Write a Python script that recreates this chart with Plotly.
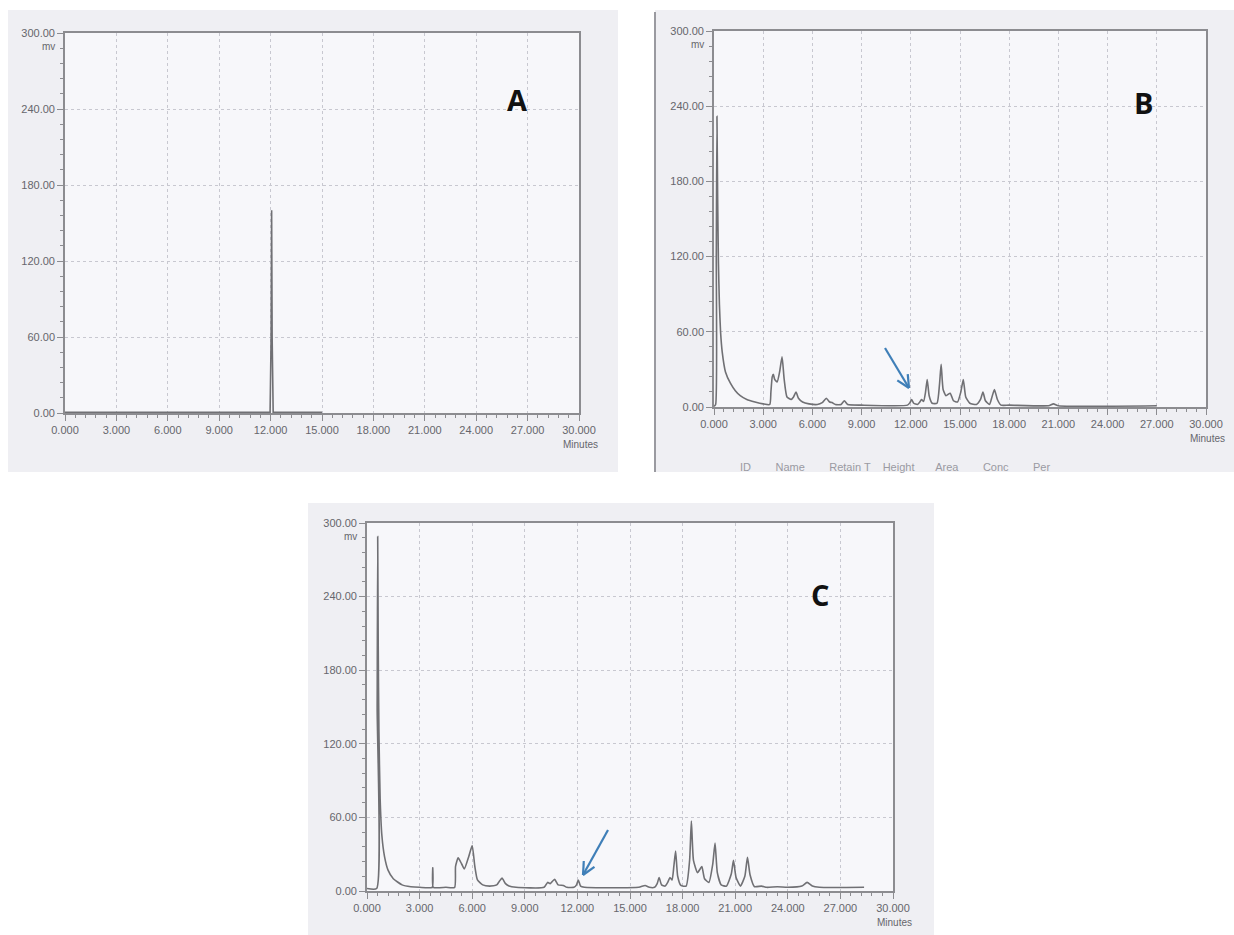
import math
import plotly.graph_objects as go

W, H = 1234, 935

# ---------------- data ----------------
panel_labels = ["A", "B", "C"]

A_time = [0.0, 11.97, 12.03, 12.06, 12.09, 12.15, 15.0]
A_mv = [0.6, 0.6, 60.0, 160.0, 60.0, 0.6, 0.6]

B_time = [0.0, 0.10, 0.14, 0.18, 0.22, 0.27, 0.33, 0.40, 0.50, 0.70, 1.00, 1.30, 1.60, 2.00,
          2.50, 3.00, 3.40, 3.47, 3.55, 3.62, 3.70, 3.85, 4.00, 4.15, 4.28, 4.45, 4.70, 4.85,
          5.00, 5.15, 5.40, 5.80, 6.30, 6.60, 6.85, 7.05, 7.20, 7.40, 7.75, 7.95, 8.15, 9.00,
          11.80, 11.95, 12.05, 12.18, 12.40, 12.55, 12.65, 12.78, 12.90, 13.00, 13.12, 13.30,
          13.60, 13.75, 13.85, 13.97, 14.15, 14.40, 14.60, 14.85, 15.05, 15.20, 15.35, 15.60,
          16.00, 16.25, 16.40, 16.55, 16.80, 16.95, 17.10, 17.28, 17.50, 18.00, 20.40, 20.70,
          21.00, 27.00]
B_mv = [0.5, 2.0, 120.0, 232.0, 170.0, 115.0, 82.0, 60.0, 44.0, 28.0, 19.0, 13.0, 9.0, 6.0,
        4.0, 2.5, 2.0, 12.0, 24.0, 26.0, 22.0, 20.0, 28.0, 40.0, 22.0, 8.0, 6.0, 8.0,
        12.0, 7.0, 4.0, 2.5, 2.0, 3.5, 7.0, 4.0, 3.5, 2.0, 2.0, 5.0, 2.0, 1.5,
        1.5, 3.5, 6.0, 3.0, 2.0, 4.0, 6.0, 4.5, 12.0, 22.0, 9.0, 3.0,
        3.0, 18.0, 34.0, 14.0, 9.0, 11.0, 5.0, 4.0, 12.0, 22.0, 8.0, 3.0,
        2.0, 6.0, 12.0, 5.0, 2.0, 8.0, 14.0, 6.0, 1.5, 1.5, 1.0, 2.5,
        1.0, 1.0]

C_time = [0.0, 0.55, 0.58, 0.61, 0.64, 0.68, 0.75, 0.85, 1.00, 1.20, 1.50, 2.00, 2.50, 3.00,
          3.72, 3.75, 3.78, 4.50, 5.00, 5.05, 5.20, 5.40, 5.55, 5.80, 6.00, 6.15, 6.30, 6.60,
          7.00, 7.40, 7.55, 7.70, 7.90, 8.10, 8.50, 10.10, 10.30, 10.45, 10.70, 10.90, 11.20,
          11.40, 11.80, 11.95, 12.05, 12.18, 12.40, 15.50, 15.86, 16.10, 16.40, 16.55, 16.66,
          16.80, 17.00, 17.15, 17.28, 17.40, 17.50, 17.60, 17.72, 17.90, 18.20, 18.40, 18.50,
          18.62, 18.85, 19.00, 19.10, 19.25, 19.50, 19.72, 19.85, 19.98, 20.20, 20.50, 20.78,
          20.90, 21.05, 21.30, 21.55, 21.70, 21.85, 22.10, 22.50, 22.80, 23.40, 24.00, 24.80,
          25.10, 25.40, 25.80, 28.35]
C_mv = [2.0, 2.0, 150.0, 289.0, 200.0, 130.0, 75.0, 45.0, 28.0, 17.0, 10.0, 5.0, 3.5, 3.0,
        3.0, 19.0, 3.0, 3.0, 3.0, 20.0, 27.0, 22.0, 18.0, 28.0, 37.0, 20.0, 9.0, 5.0,
        4.0, 5.0, 8.0, 10.5, 6.0, 4.0, 3.0, 3.0, 7.0, 6.0, 9.5, 5.0, 4.5,
        3.0, 3.0, 5.0, 9.0, 4.0, 3.0, 3.0, 4.5, 3.0, 3.0, 6.0, 11.0,
        5.0, 4.0, 7.0, 11.0, 9.0, 20.0, 32.6, 12.0, 4.5, 4.0, 25.0, 57.0,
        25.0, 15.0, 18.0, 20.0, 10.0, 7.0, 22.0, 39.0, 15.0, 5.0, 4.0, 14.0,
        25.0, 11.0, 4.0, 12.0, 27.5, 13.0, 3.5, 4.0, 3.0, 3.5, 3.0, 4.0,
        7.0, 4.0, 3.0, 3.0]

x_tickvals = [0, 3, 6, 9, 12, 15, 18, 21, 24, 27, 30]
x_ticktext = ["0.000", "3.000", "6.000", "9.000", "12.000", "15.000", "18.000",
              "21.000", "24.000", "27.000", "30.000"]
y_tickvals = [0, 60, 120, 180, 240, 300]
y_ticktext = ["0.00", "60.00", "120.00", "180.00", "240.00", "300.00"]
y_unit = "mv"
x_unit = "Minutes"
table_header_B = "ID        Name        Retain T    Height       Area        Conc        Per"

# ---------------- layout geometry (pixels) ----------------
plot_px = [(65, 579, 33, 413), (714, 1206, 31, 407), (367, 893, 523, 891)]
paper_px = [(8, 618, 10, 472), (655, 1234, 10, 472), (308, 934, 503, 935)]
letter_px = [(517, 100), (1143, 102), (820, 594)]
arrows_px = [((885, 348), (909, 388)), ((608, 830), (583, 875))]
line_shapes = ["linear", "spline", "spline"]


def fx(px):
    return px / W


def fy(py):
    return 1 - py / H


TRACE_COLOR = "#707074"
AXIS_COLOR = "#8c8c90"
TEXT_COLOR = "#66666c"
GRID_COLOR = "#c8c8d0"
FONT = "Liberation Sans"

fig = go.Figure()
series = [(A_time, A_mv), (B_time, B_mv), (C_time, C_mv)]
for i, (t, v) in enumerate(series):
    suffix = "" if i == 0 else str(i + 1)
    line = dict(color=TRACE_COLOR, width=1.6, shape=line_shapes[i])
    if line_shapes[i] == "spline":
        line["smoothing"] = 0.5
    fig.add_trace(go.Scatter(x=t, y=v, mode="lines", line=line,
                             xaxis="x" + suffix, yaxis="y" + suffix,
                             showlegend=False, hoverinfo="skip", cliponaxis=True))

layout = dict(width=W, height=H, autosize=False,
              margin=dict(l=0, r=0, t=0, b=0, pad=0, autoexpand=False),
              paper_bgcolor="white", plot_bgcolor="rgba(0,0,0,0)",
              showlegend=False, shapes=[], annotations=[])

for i in range(3):
    suffix = "" if i == 0 else str(i + 1)
    l, r, t, b = plot_px[i]
    common = dict(ticks="outside", ticklen=6, tickcolor=AXIS_COLOR, tickwidth=1,
                  showline=True, linecolor=AXIS_COLOR, linewidth=1.6, mirror=True,
                  showgrid=True, gridcolor=GRID_COLOR, griddash="dot", gridwidth=1,
                  zeroline=False, fixedrange=True, automargin=False,
                  tickfont=dict(family=FONT, size=11, color=TEXT_COLOR))
    xa = dict(domain=[fx(l), fx(r)], range=[0, 30], anchor="y" + suffix,
              tickmode="array", tickvals=x_tickvals, ticktext=x_ticktext,
              minor=dict(dtick=0.6, tick0=0, ticks="outside", ticklen=3,
                         tickcolor=AXIS_COLOR, showgrid=False), **common)
    ya = dict(domain=[fy(b), fy(t)], range=[0, 300], anchor="x" + suffix,
              tickmode="array", tickvals=y_tickvals, ticktext=y_ticktext,
              minor=dict(dtick=12, tick0=0, ticks="outside", ticklen=3,
                         tickcolor=AXIS_COLOR, showgrid=False), **common)
    layout["xaxis" + suffix] = xa
    layout["yaxis" + suffix] = ya

    pl, pr, pt, pb = paper_px[i]
    layout["shapes"].append(dict(type="rect", xref="paper", yref="paper", layer="below",
                                 x0=fx(pl), x1=fx(pr), y0=fy(pb), y1=fy(pt),
                                 fillcolor="#efeff3", line=dict(width=0)))
    layout["shapes"].append(dict(type="rect", xref="paper", yref="paper", layer="below",
                                 x0=fx(l), x1=fx(r), y0=fy(b), y1=fy(t),
                                 fillcolor="#f7f7fa", line=dict(width=0)))

    layout["annotations"].append(dict(text=y_unit, xref="paper", yref="paper",
                                      x=fx(l - 8), y=fy(t + 13), xanchor="right", yanchor="middle",
                                      showarrow=False,
                                      font=dict(family=FONT, size=10, color=TEXT_COLOR)))
    layout["annotations"].append(dict(text=x_unit, xref="paper", yref="paper",
                                      x=fx(r + 1), y=fy(b + 31), xanchor="center", yanchor="middle",
                                      showarrow=False,
                                      font=dict(family=FONT, size=10, color=TEXT_COLOR)))
    lx, ly = letter_px[i]
    layout["annotations"].append(dict(text="<b>%s</b>" % panel_labels[i], xref="paper", yref="paper",
                                      x=fx(lx), y=fy(ly), xanchor="center", yanchor="middle",
                                      showarrow=False,
                                      font=dict(family="Open Sans", size=29, color="#111111")))

# dark left edge of scan B
layout["shapes"].append(dict(type="line", xref="paper", yref="paper", layer="below",
                             x0=fx(655), x1=fx(655), y0=fy(472), y1=fy(12),
                             line=dict(color="#9a9aa0", width=2)))

layout["annotations"].append(dict(text=table_header_B, xref="paper", yref="paper",
                                  x=fx(738), y=fy(467), xanchor="left", yanchor="middle",
                                  showarrow=False,
                                  font=dict(family=FONT, size=11, color="#9a9aa2")))

# blue arrows with open V heads
ARROW = "#3f7fb8"
for (tx, ty), (hx, hy) in arrows_px:
    layout["shapes"].append(dict(type="line", xref="paper", yref="paper",
                                 x0=fx(tx), y0=fy(ty), x1=fx(hx), y1=fy(hy),
                                 line=dict(color=ARROW, width=2.2)))
    ang = math.atan2(ty - hy, tx - hx)
    for d in (-0.45, 0.45):
        wx = hx + 14 * math.cos(ang + d)
        wy = hy + 14 * math.sin(ang + d)
        layout["shapes"].append(dict(type="line", xref="paper", yref="paper",
                                     x0=fx(hx), y0=fy(hy), x1=fx(wx), y1=fy(wy),
                                     line=dict(color=ARROW, width=2.2)))

fig.update_layout(**layout)
fig.write_html("out.html")
